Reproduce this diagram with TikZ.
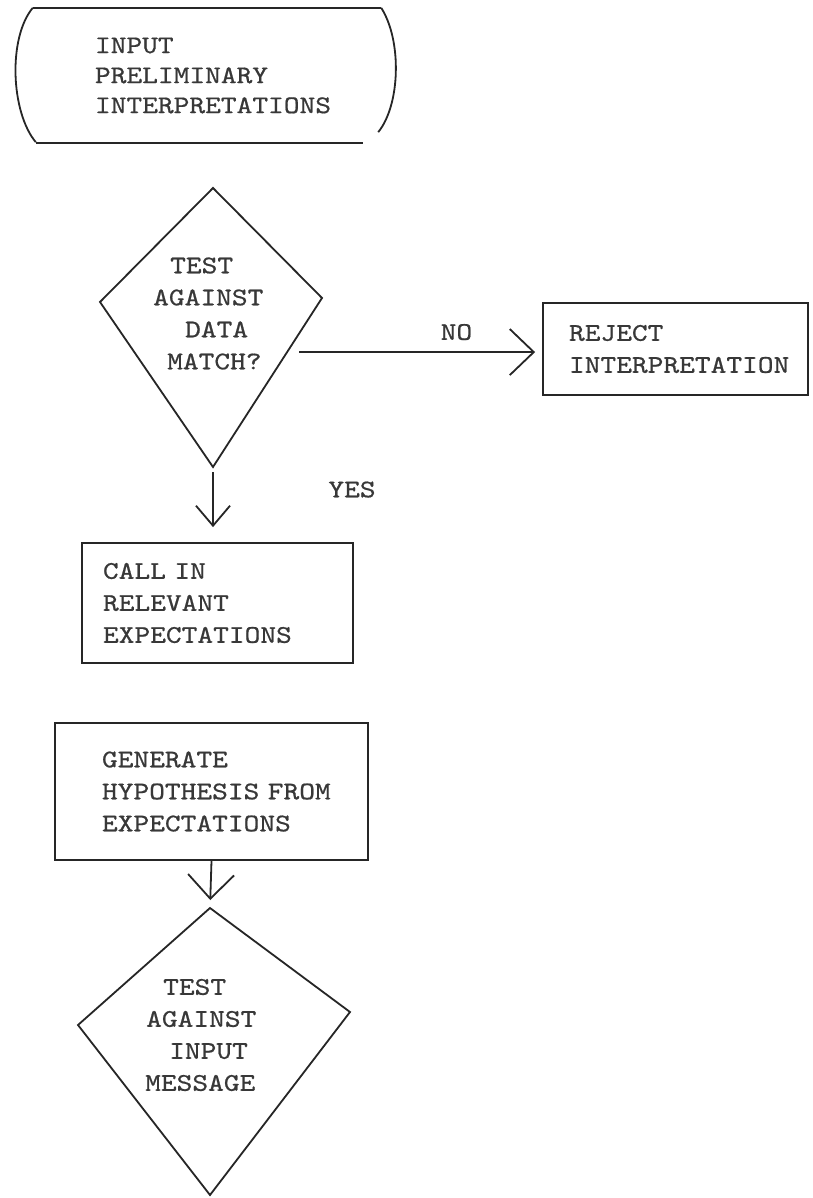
\documentclass[tikz,border=0pt]{standalone}
\usepackage{fontspec}
\newfontfamily\tw[FakeStretch=1.18,FakeBold=0.7,HyphenChar=None]{lmmono10-regular.otf}
\usetikzlibrary{arrows.meta,calc}
\begin{document}
\begin{tikzpicture}[x=1pt,y=-1pt,
  ink/.style={draw=black!85, line width=1.8pt, line join=miter},
  txt/.style={font=\tw\fontsize{25.4pt}{32pt}\selectfont, text=black!78, inner sep=0pt},
  procbox/.style={ink, rectangle, txt, align=left, inner ysep=0pt},
  flow/.style={ink, -{Straight Barb[length=24pt,width=46pt]}},
  flowsmall/.style={ink, -{Straight Barb[length=20pt,width=34pt]}}]
\useasboundingbox[fill=white] (0,0) rectangle (812,1198);

% terminal
\node[txt, align=left, text width=224pt, inner xsep=62pt, minimum width=348pt,
      minimum height=135pt, font=\tw\fontsize{25.4pt}{30pt}\selectfont]
      (term) at (207,75.5) {INPUT\\PRELIMINARY\\INTERPRETATIONS};
\draw[ink] (term.north west) -- (term.north east);
\draw[ink] ($(term.south west)+(3,0)$) -- ($(term.south east)+(-18,0)$);
\draw[ink] (term.north west) .. controls +(-25,30) and +(-25,-30) .. ($(term.south west)+(3,-1)$);
\draw[ink] (term.north east) .. controls +(21,33) and +(22,-27) .. ($(term.south east)+(-3,-11)$);

% decision 1
\coordinate (d1t) at (213,188);
\coordinate (d1r) at (322,298);
\coordinate (d1b) at (213,467);
\coordinate (d1l) at (100,302);
\draw[ink] (d1t) -- (d1r) -- (d1b) -- (d1l) -- cycle;
\node[txt, align=left, anchor=west] (d1txt) at (153,313.5)
  {\hspace*{17pt}TEST\\AGAINST\\\hspace*{32pt}DATA\\\hspace*{14pt}MATCH?};

% reject
\node[procbox, text width=213pt, inner xsep=26pt, minimum height=92pt]
  (reject) at (675.5,349) {REJECT\\INTERPRETATION};

% call in
\node[procbox, text width=229pt, inner xsep=21pt, minimum height=120pt]
  (calls) at (217.5,603) {CALL IN\\RELEVANT\\EXPECTATIONS};

% generate
\node[procbox, text width=219pt, inner xsep=47pt, minimum height=137pt]
  (gen) at (211.5,791.5) {GENERATE\\HYPOTHESIS~FROM\\EXPECTATIONS};

% decision 2
\coordinate (d2t) at (210,908);
\coordinate (d2r) at (350,1012);
\coordinate (d2b) at (210,1195);
\coordinate (d2l) at (78,1025);
\draw[ink] (d2t) -- (d2r) -- (d2b) -- (d2l) -- cycle;
\node[txt, align=left, anchor=west] (d2txt) at (145,1035)
  {\hspace*{18pt}TEST\\\hspace*{1pt}AGAINST\\\hspace*{24pt}INPUT\\MESSAGE};

% connectors
\coordinate (d1no) at ($(d1r)!0.32!(d1b)$);
\draw[flow, shorten <=12pt, shorten >=7pt] (d1no) -- (d1no -| reject.west)
  node[txt, pos=0.664, yshift=20pt] (nolbl) {NO};
\draw[flowsmall, shorten <=5pt, shorten >=15pt] (d1b) -- (d1b |- calls.north)
  node[txt, pos=0.3, xshift=139pt] (yeslbl) {YES};
\draw[flow, shorten >=8pt] (gen.south) -- (d2t);
\end{tikzpicture}
\end{document}
